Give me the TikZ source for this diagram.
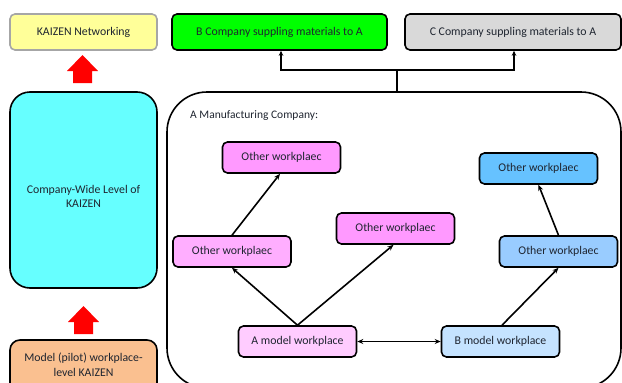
\documentclass[tikz,border=0pt]{standalone}
\usepackage{fontspec}
\setmainfont{Carlito}
\usetikzlibrary{arrows.meta}
\definecolor{txt}{HTML}{1F2530}
\definecolor{kzyellow}{HTML}{FFFF99}
\definecolor{kzgray}{HTML}{A6A6A6}
\definecolor{bgreen}{HTML}{00FF00}
\definecolor{cgray}{HTML}{D9D9D9}
\definecolor{wcyan}{HTML}{66FFFF}
\definecolor{porange}{HTML}{FAC090}
\definecolor{pinkA}{HTML}{FF99FF}
\definecolor{pinkB}{HTML}{FFAEFF}
\definecolor{pinkC}{HTML}{FFCCFF}
\definecolor{blueA}{HTML}{66C2FF}
\definecolor{blueB}{HTML}{99CCFF}
\definecolor{blueC}{HTML}{C5E3FF}
\definecolor{redarrow}{HTML}{FF0000}
\tikzset{
  base/.style={draw=black, line width=1.6pt, rounded corners=5pt, text=txt,
    font=\fontsize{11.8}{14}\selectfont, align=center, inner sep=0pt},
  topbox/.style={base, minimum height=36pt},
  work/.style={base, minimum width=118pt, minimum height=31pt},
  link/.style={line width=1.6pt, -{Stealth[length=6pt,width=5pt]}},
  bilink/.style={line width=1.6pt, {Stealth[length=6pt,width=5pt]}-{Stealth[length=6pt,width=5pt]}},
  feed/.style={line width=1.6pt, -{Stealth[length=5pt,width=4.5pt]}},
  uparrow/.style={fill=redarrow, draw=none}
}
\begin{document}
\begin{tikzpicture}[x=1pt,y=-1pt]
\useasboundingbox (0,0) rectangle (622,383);
\clip (0,0) rectangle (622,383);

% top row
\node[topbox, draw=kzgray, fill=kzyellow, minimum width=147pt] (kz) at (83.5,32) {KAIZEN Networking};
\node[topbox, fill=bgreen, minimum width=215pt] (bco) at (279.5,32) {B Company suppling materials to A};
\node[topbox, fill=cgray, minimum width=216pt] (cco) at (513,32) {C Company suppling materials to A};

% levels of KAIZEN on the left
\node[base, fill=wcyan, rounded corners=20pt, minimum width=147pt, minimum height=196pt] (cw) at (83.5,190) {};
\node[text=txt, font=\fontsize{11.8}{14}\selectfont, align=center] (cwtext) at (83.5,196) {Company-Wide Level of\\KAIZEN};
\node[base, fill=porange, rounded corners=10pt, minimum width=147pt, minimum height=54pt] (pilot) at (83.5,367) {};
\node[text=txt, font=\fontsize{11.8}{15}\selectfont, align=center] (pilottext) at (83.5,365) {Model (pilot) workplace-\\level KAIZEN};

% red block arrows between the levels
\fill[uparrow] (67,71) -- (82.5,55) -- (98,71) -- (92,71) -- (92,83) -- (73,83) -- (73,71) -- cycle;
\fill[uparrow] (68,322) -- (83.5,306) -- (99,322) -- (93,322) -- (93,334) -- (74,334) -- (74,322) -- cycle;

% the manufacturing company
\node[base, fill=none, rounded corners=40pt, minimum width=454pt, minimum height=296pt] (mfg) at (394,240) {};
\node[anchor=west, text=txt, font=\fontsize{11.5}{13}\selectfont, inner sep=0pt] (mfglabel) at (190,116) {A Manufacturing Company:};

% supply links
\coordinate (j) at (397,70);
\draw[line width=1.6pt] (j |- mfg.north) -- (j);
\draw[feed] (j) -| ([xshift=1.5pt]bco.south);
\draw[feed] (j) -| ([xshift=1pt]cco.south);

% workplaces
\node[work, fill=pinkA] (o1) at (281.5,157.5) {Other workplaec};
\node[work, fill=pinkB] (o2) at (232,251.5) {Other workplaec};
\node[work, fill=pinkA] (o3) at (395.5,228.5) {Other workplaec};
\node[work, fill=blueA] (o4) at (538.5,168.5) {Other workplaec};
\node[work, fill=blueB] (o5) at (558.5,251.5) {Other workplaec};
\node[work, fill=pinkC] (am) at (297.5,341.5) {A model workplace};
\node[work, fill=blueC] (bm) at (500.5,341.5) {B model workplace};

% spreading of KAIZEN
\draw[link] (am.north) -- (o2.south);
\draw[link] (am.north) -- ([xshift=-2pt]o3.south);
\draw[link] (o2.north) -- ([xshift=-1.5pt]o1.south);
\draw[link] ([xshift=1.5pt]bm.north) -- (o5.south);
\draw[link] (o5.north) -- (o4.south);
\draw[bilink] (am.east) -- (bm.west);
\end{tikzpicture}
\end{document}
